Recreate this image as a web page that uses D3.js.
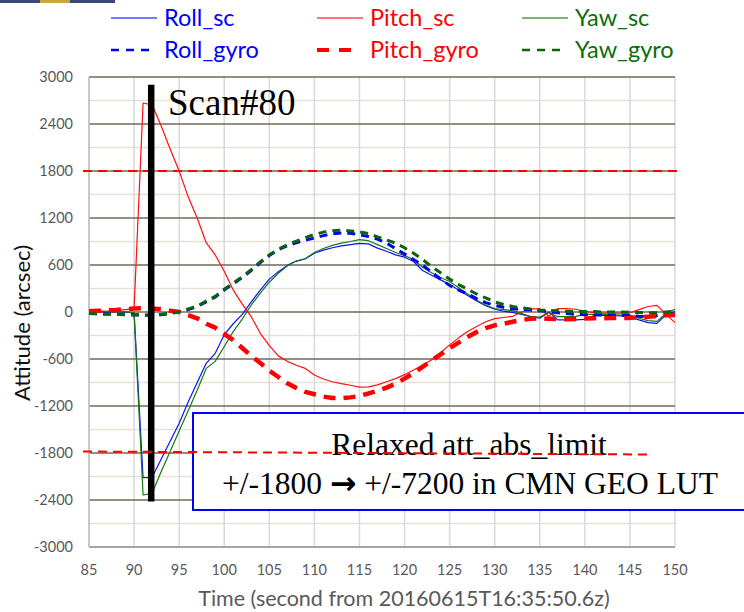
<!DOCTYPE html>
<html><head><meta charset="utf-8">
<script src="https://cdn.jsdelivr.net/npm/d3@7"></script>
<style>
html,body{margin:0;padding:0;background:#fff;}
svg{display:block;}
</style></head>
<body>
<svg id="chart" width="744" height="612"></svg>
<script>
// ---- data ----
const times = [85,86,87,88,89,90,91,92,93,94,95,96,97,98,99,100,101,102,103,104,105,106,107,108,109,110,
  111,112,113,114,115,116,117,118,119,120,121,122,123,124,125,126,127,128,129,130,131,132,133,134,135,
  136,137,138,139,140,141,142,143,144,145,146,147,148,149,150];

const rollSc = [10,5,0,0,0,-10,-2115,-2110,-1880,-1650,-1420,-1150,-900,-655,-527,-290,-150,-30,130,280,
  420,515,595,650,680,750,790,820,845,860,875,870,815,775,730,700,645,530,470,410,350,280,210,140,80,35,
  10,-5,-30,-60,-80,0,-100,-100,-100,-95,-45,-40,-45,-50,-60,-100,-135,-145,-35,5];

const pitchSc = [0,5,10,20,30,40,2668,2645,2377,2080,1800,1470,1200,885,728,520,280,100,-60,-272,
  -430,-560,-630,-680,-720,-805,-855,-890,-915,-935,-960,-955,-930,-890,-850,-800,-740,-680,-610,-520,
  -420,-330,-250,-185,-125,-85,-70,-55,0,40,40,-55,45,42,35,10,-10,-15,-15,-15,-10,30,70,85,-30,-136];

const yawSc = [25,15,5,0,0,-10,-2336,-2315,-2040,-1780,-1520,-1260,-1000,-720,-630,-440,-250,-90,90,240,
  380,495,590,650,680,760,810,850,880,900,925,910,860,810,760,720,670,570,500,440,390,310,230,150,90,45,
  30,15,-20,-60,-65,-10,-60,-60,-55,-30,-30,-30,-35,-40,-40,-80,-110,-120,-15,35];

const rollGyro = [-15,-20,-25,-28,-30,-35,-38,-40,-35,-20,0,30,70,130,190,280,360,440,530,630,
  720,795,845,885,915,945,975,998,1010,1005,985,965,930,880,810,740,670,600,510,420,340,280,230,170,120,85,
  60,40,32,25,15,5,-10,-20,-30,-35,-38,-40,-40,-42,-45,-55,-60,-45,-25,-15];

const pitchGyro = [10,15,20,25,35,45,47,45,35,15,0,-40,-80,-150,-200,-280,-360,-460,-560,-650,
  -750,-830,-910,-970,-1020,-1050,-1080,-1098,-1102,-1090,-1072,-1040,-1005,-965,-915,-850,-780,-700,-620,-540,
  -460,-390,-320,-255,-205,-170,-150,-125,-102,-85,-80,-85,-92,-92,-88,-82,-80,-80,-78,-75,-75,-70,-60,-50,-42,-38];

const yawGyro = [-20,-25,-30,-30,-35,-38,-40,-40,-30,-15,5,40,75,140,200,290,370,450,540,640,
  730,800,860,905,950,990,1020,1038,1045,1035,1022,1000,960,920,880,820,750,670,580,500,
  420,350,290,230,180,130,95,70,55,40,25,20,15,10,5,5,5,0,0,0,-5,-5,-10,-10,0,10];

const xTicks = [85,90,95,100,105,110,115,120,125,130,135,140,145,150];
const yTicks = [-3000,-2400,-1800,-1200,-600,0,600,1200,1800,2400,3000];
const yMinor = [-2700,-2100,-1500,-900,-300,300,900,1500,2100,2700];
const limitValue = 1800;
const scanTime = 91.9;
const scanRange = [-2420, 2900];

const seriesNames = ["Roll_sc","Pitch_sc","Yaw_sc","Roll_gyro","Pitch_gyro","Yaw_gyro"];

// ---- setup ----
const svg = d3.select("#chart");
const x = d3.scaleLinear().domain([85,150]).range([89,675]);
const y = d3.scaleLinear().domain([-3000,3000]).range([547,77]);

const styles = {
  Roll_sc:   {color:"#1010ff", width:1.2, dash:null, text:"#0000ff"},
  Pitch_sc:  {color:"#ff1010", width:1.2, dash:null, text:"#ff0000"},
  Yaw_sc:    {color:"#137a13", width:1.2, dash:null, text:"#0a6e0a"},
  Roll_gyro: {color:"#0000ee", width:3, dash:"8,6", text:"#0000ff"},
  Pitch_gyro:{color:"#ff0000", width:4.5, dash:"12,8", text:"#ff0000"},
  Yaw_gyro:  {color:"#0a640a", width:3, dash:"8,6", text:"#0a6e0a"}
};
const seriesData = {
  Roll_sc: rollSc, Pitch_sc: pitchSc, Yaw_sc: yawSc,
  Roll_gyro: rollGyro, Pitch_gyro: pitchGyro, Yaw_gyro: yawGyro
};

// minor horizontal grid
svg.append("g").selectAll("line").data(yMinor).join("line")
  .attr("x1", x(85)).attr("x2", x(150))
  .attr("y1", d=>y(d)).attr("y2", d=>y(d))
  .attr("stroke", "#e6e1d3").attr("stroke-width", 1.5);

// vertical grid
svg.append("g").selectAll("line").data(xTicks).join("line")
  .attr("x1", d=>x(d)).attr("x2", d=>x(d))
  .attr("y1", y(3000)).attr("y2", y(-3000))
  .attr("stroke", "#d9d9d9").attr("stroke-width", 1.5);

// major horizontal grid
svg.append("g").selectAll("line").data(yTicks.filter(d=>d>-3000)).join("line")
  .attr("x1", x(85)).attr("x2", x(150))
  .attr("y1", d=>y(d)).attr("y2", d=>y(d))
  .attr("stroke", "#6f6a5a").attr("stroke-width", 1.5);

// bottom axis line
svg.append("line").attr("x1", x(85)).attr("x2", x(150))
  .attr("y1", y(-3000)).attr("y2", y(-3000))
  .attr("stroke", "#a6a6a6").attr("stroke-width", 2);
// left axis line
svg.append("line").attr("x1", x(85)).attr("x2", x(85))
  .attr("y1", y(3000)).attr("y2", y(-3000))
  .attr("stroke", "#bfbfbf").attr("stroke-width", 1.5);

// tick labels
const labelFont = "Lato, 'Open Sans', sans-serif";
svg.append("g").selectAll("text").data(yTicks).join("text")
  .attr("x", 73).attr("y", d=>y(d)).attr("dy", "0.35em")
  .attr("text-anchor", "end").attr("font-family", labelFont).attr("font-size", 14.5)
  .attr("fill", "#595959").text(d=>d);
svg.append("g").selectAll("text").data(xTicks).join("text")
  .attr("x", d=>x(d)).attr("y", 570).attr("dy", "0.35em")
  .attr("text-anchor", "middle").attr("font-family", labelFont).attr("font-size", 14.5)
  .attr("fill", "#595959").text(d=>d);

// axis titles
svg.append("text").attr("x", 404).attr("y", 598).attr("dy", "0.35em")
  .attr("text-anchor", "middle").attr("font-family", labelFont).attr("font-size", 21.5)
  .attr("fill", "#595959").text("Time (second from 20160615T16:35:50.6z)");
svg.append("text").attr("transform", "translate(22,323) rotate(-90)").attr("dy", "0.35em")
  .attr("text-anchor", "middle").attr("font-family", labelFont).attr("font-size", 22)
  .attr("fill", "#111").text("Attitude (arcsec)");

// upper limit dashed line
svg.append("line").attr("x1", 83).attr("x2", 677)
  .attr("y1", y(limitValue)).attr("y2", y(limitValue))
  .attr("stroke", "#ff0000").attr("stroke-width", 2).attr("stroke-dasharray", "9,6");

// series
const line = d3.line().x((d,i)=>x(times[i])).y(d=>y(d));
seriesNames.forEach(name=>{
  const s = styles[name];
  svg.append("path").datum(seriesData[name])
    .attr("d", line).attr("fill", "none")
    .attr("stroke", s.color).attr("stroke-width", s.width)
    .attr("stroke-dasharray", s.dash)
    .attr("stroke-linejoin", "round");
});

// Scan line
svg.append("line").attr("x1", x(scanTime)).attr("x2", x(scanTime))
  .attr("y1", y(scanRange[1])).attr("y2", y(scanRange[0]))
  .attr("stroke", "#000").attr("stroke-width", 6.5);
svg.append("text").attr("x", 168).attr("y", 115)
  .attr("font-family", "'Liberation Serif', 'Times New Roman', serif").attr("font-size", 37)
  .attr("fill", "#000").text("Scan#80");

// annotation box
svg.append("rect").attr("x", 193).attr("y", 413).attr("width", 560).attr("height", 97)
  .attr("fill", "#fff").attr("stroke", "#0000ff").attr("stroke-width", 2);
svg.append("text").attr("x", 469).attr("y", 455).attr("text-anchor", "middle")
  .attr("font-family", "'Liberation Serif', 'Times New Roman', serif").attr("font-size", 31.5)
  .attr("fill", "#000").text("Relaxed att_abs_limit");
const t2 = svg.append("text").attr("x", 470).attr("y", 494).attr("text-anchor", "middle")
  .attr("font-family", "'Liberation Serif', 'Times New Roman', serif").attr("font-size", 31.5)
  .attr("fill", "#000");
t2.append("tspan").text("+/-1800 ");
t2.append("tspan").attr("font-family", "'DejaVu Sans', sans-serif").attr("font-weight", "bold").text("→");
t2.append("tspan").text(" +/-7200 in CMN GEO LUT");

// lower limit dashed line (drawn over box)
svg.append("line").attr("x1", 83).attr("x2", 648)
  .attr("y1", y(-limitValue) - 1.5).attr("y2", y(-limitValue) + 1.5)
  .attr("stroke", "#ff0000").attr("stroke-width", 2).attr("stroke-dasharray", "9,6");

// legend
const legendItems = [
  {name:"Roll_sc", lx:111, tx:164, row:0, len:46},
  {name:"Pitch_sc", lx:317, tx:370, row:0, len:46},
  {name:"Yaw_sc", lx:522, tx:575, row:0, len:46},
  {name:"Roll_gyro", lx:111, tx:164, row:1, len:40},
  {name:"Pitch_gyro", lx:317, tx:370, row:1, len:34},
  {name:"Yaw_gyro", lx:522, tx:575, row:1, len:40}
];
const lg = svg.append("g");
legendItems.forEach(it=>{
  const s = styles[it.name];
  const yy = it.row === 0 ? 18 : 50;
  lg.append("line").attr("x1", it.lx).attr("x2", it.lx + it.len)
    .attr("y1", yy).attr("y2", yy)
    .attr("stroke", s.color).attr("stroke-width", it.row===0 ? 1.6 : (it.name==="Pitch_gyro" ? 4 : 2.5))
    .attr("stroke-dasharray", s.dash ? (it.name==="Pitch_gyro" ? "12,10" : "8,7") : null)
    .attr("opacity", it.row===0 ? 0.75 : 1);
  lg.append("text").attr("x", it.tx).attr("y", yy).attr("dy", "0.35em")
    .attr("font-family", labelFont).attr("font-size", 23.5)
    .attr("fill", s.text).text(it.name);
});

// small image fragment at top-left corner
svg.append("rect").attr("x", 0).attr("y", 0).attr("width", 115).attr("height", 3).attr("fill", "#3a4a78");
svg.append("rect").attr("x", 40).attr("y", 0).attr("width", 30).attr("height", 3).attr("fill", "#c9a640");
</script>
</body></html>
